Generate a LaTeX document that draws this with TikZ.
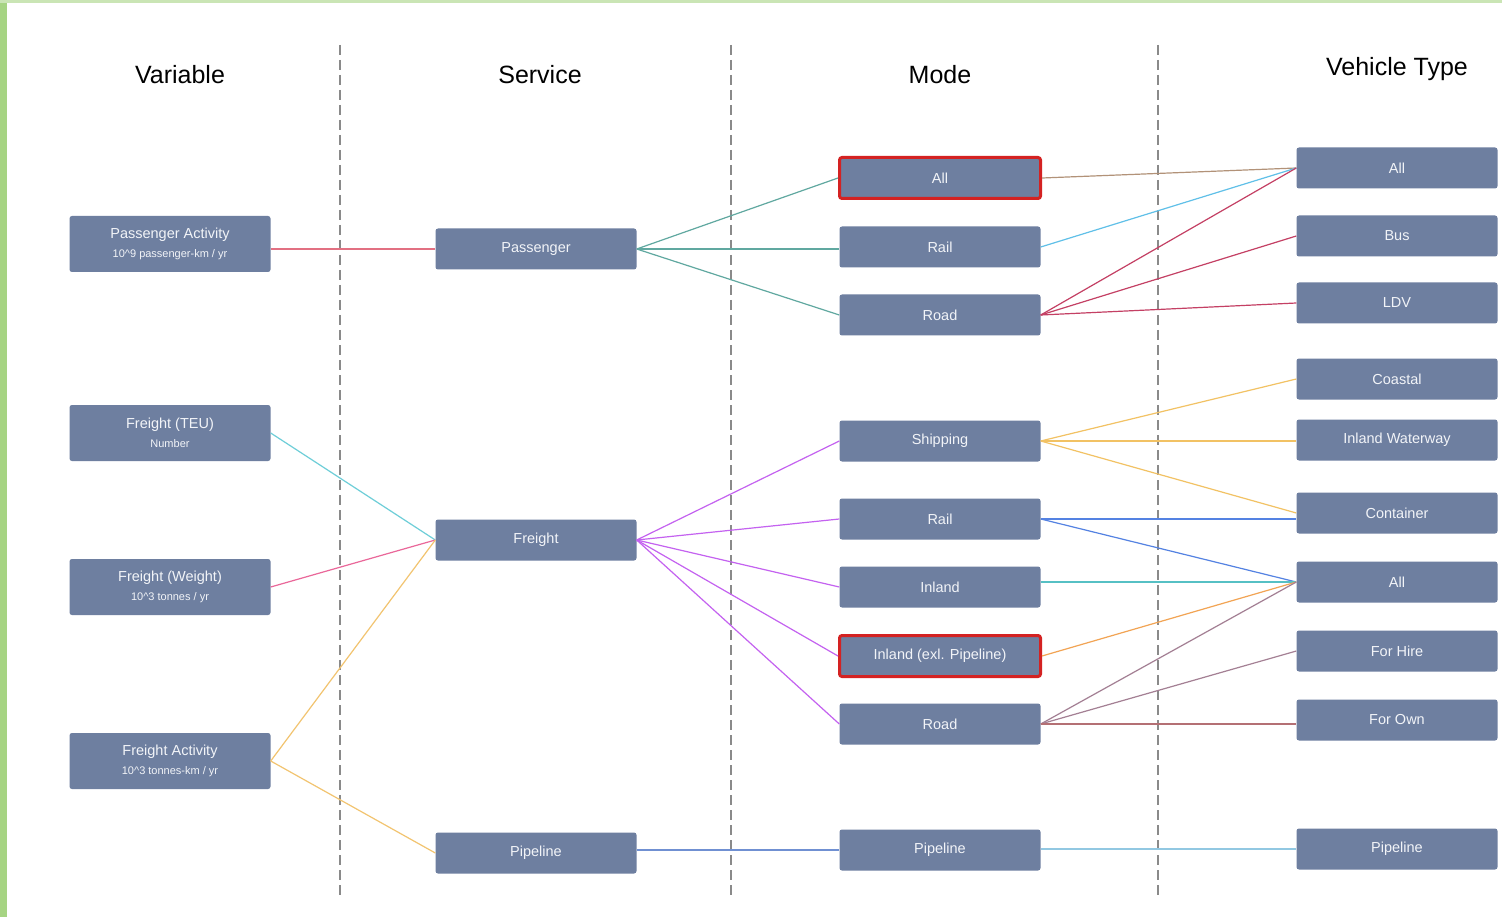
\documentclass[tikz,border=0pt]{standalone}
\usepackage{fontspec}
\setmainfont{Liberation Sans}
\usepackage{tikz}
\usetikzlibrary{calc}
\usepackage[dvipsnames,svgnames]{xcolor}

\definecolor{boxfill}{HTML}{6E7FA0}
\definecolor{boxtext}{HTML}{F2F4F8}
\definecolor{selred}{HTML}{D42222}
\definecolor{sepgray}{HTML}{8A8A8A}
\definecolor{edgegreen}{HTML}{A6D483}

\begin{document}
\begin{tikzpicture}[x=1pt,y=-1pt,
    box/.style={draw=none,fill=boxfill,rounded corners=2.5pt,minimum width=201pt,minimum height=41pt,
        text=boxtext,font=\fontsize{14.5}{17}\selectfont,align=center,inner sep=0pt},
    tallbox/.style={box,minimum height=56pt},
    chosen/.style={draw=selred,line width=3pt},
    head/.style={font=\fontsize{25}{30}\selectfont,text=black},
    link/.style={line width=1.2pt}]

    % Rahmen und Hintergrund
    \useasboundingbox (0,0) rectangle (1502,917);
    \fill[white] (0,0) rectangle (1502,917);
    \fill[edgegreen] (0,0) rectangle (7,917);
    \fill[edgegreen!60] (0,0) rectangle (1502,3);

    % Spaltenueberschriften
    \node[head] (hvar) at (180,75) {Variable};
    \node[head] (hser) at (540,75) {Service};
    \node[head] (hmod) at (940,75) {Mode};
    \node[head] (hveh) at (1397,69) {Vehicle Type};

    % gestrichelte Trennlinien
    \foreach \xs in {340,731,1158}
        \draw[sepgray,line width=1.8pt,dash pattern=on 10pt off 5pt] (\xs,45)--(\xs,895);

    % Variable
    \node[tallbox] (vpa) at (170,244) {Passenger Activity\\[2pt]{\fontsize{11}{13}\selectfont 10\textasciicircum 9 passenger-km / yr}};
    \node[tallbox] (vteu) at (170,433) {Freight (TEU)\\[2pt]{\fontsize{11}{13}\selectfont Number}};
    \node[tallbox] (vwt) at (170,587) {Freight (Weight)\\[2pt]{\fontsize{11}{13}\selectfont 10\textasciicircum 3 tonnes / yr}};
    \node[tallbox] (vfa) at (170,761) {Freight Activity\\[2pt]{\fontsize{11}{13}\selectfont 10\textasciicircum 3 tonnes-km / yr}};

    % Service
    \node[box] (spas) at (536,249) {Passenger};
    \node[box] (sfr) at (536,540) {Freight};
    \node[box] (spip) at (536,853) {Pipeline};

    % Mode
    \node[box,chosen] (mall) at (940,178) {All};
    \node[box] (mrail) at (940,247) {Rail};
    \node[box] (mroad) at (940,315) {Road};
    \node[box] (mship) at (940,441) {Shipping};
    \node[box] (mfrail) at (940,519) {Rail};
    \node[box] (minl) at (940,587) {Inland};
    \node[box,chosen] (minx) at (940,656) {Inland (exl. Pipeline)};
    \node[box] (mfroad) at (940,724) {Road};
    \node[box] (mpip) at (940,850) {Pipeline};

    % Vehicle Type
    \node[box] (tall) at (1397,168) {All};
    \node[box] (tbus) at (1397,236) {Bus};
    \node[box] (tldv) at (1397,303) {LDV};
    \node[box] (tcoast) at (1397,379) {Coastal};
    \node[box] (tiww) at (1397,440) {Inland Waterway};
    \node[box] (tcont) at (1397,513) {Container};
    \node[box] (tfall) at (1397,582) {All};
    \node[box] (thire) at (1397,651) {For Hire};
    \node[box] (town) at (1397,720) {For Own};
    \node[box] (tpip) at (1397,849) {Pipeline};

    % Variable -> Service
    \draw[link,color={rgb,255:red,226;green,112;blue,130}] (vpa.east |- spas.west)--(spas.west);
    \draw[link,color={rgb,255:red,110;green,206;blue,216}] (vteu.east)--(sfr.west);
    \draw[link,color={rgb,255:red,234;green,104;blue,154}] (vwt.east)--(sfr.west);
    \draw[link,color={rgb,255:red,242;green,196;blue,112}] (vfa.east)--(sfr.west);
    \draw[link,color={rgb,255:red,242;green,196;blue,112}] (vfa.east)--(spip.west);

    % Service -> Mode
    \draw[link,color={rgb,255:red,96;green,168;blue,160}] (spas.east)--(mall.west);
    \draw[link,color={rgb,255:red,96;green,168;blue,160}] (spas.east)--(mrail.west |- spas.east);
    \draw[link,color={rgb,255:red,96;green,168;blue,160}] (spas.east)--(mroad.west);
    \foreach \m in {mship,mfrail,minl,minx,mfroad}
        \draw[link,color={rgb,255:red,196;green,98;blue,240}] (sfr.east)--(\m.west);
    \draw[link,color={rgb,255:red,112;green,144;blue,210}] (spip.east |- mpip.west)--(mpip.west);

    % Mode -> Vehicle Type
    \draw[link,color={rgb,255:red,178;green,146;blue,120}] (mall.east)--(tall.west);
    \draw[link,color={rgb,255:red,96;green,192;blue,232}] (mrail.east)--(tall.west);
    \foreach \t in {tall,tbus,tldv}
        \draw[link,color={rgb,255:red,196;green,64;blue,100}] (mroad.east)--(\t.west);
    \foreach \t in {tcoast,tcont}
        \draw[link,color={rgb,255:red,242;green,194;blue,100}] (mship.east)--(\t.west);
    \draw[link,color={rgb,255:red,242;green,194;blue,100}] (mship.east)--(tiww.west |- mship.east);
    \draw[link,color={rgb,255:red,84;green,130;blue,226}] (mfrail.east)--(tcont.west |- mfrail.east);
    \draw[link,color={rgb,255:red,84;green,130;blue,226}] (mfrail.east)--(tfall.west);
    \draw[link,color={rgb,255:red,86;green,192;blue,196}] (minl.east |- tfall.west)--(tfall.west);
    \draw[link,color={rgb,255:red,242;green,164;blue,84}] (minx.east)--(tfall.west);
    \foreach \t in {tfall,thire}
        \draw[link,color={rgb,255:red,164;green,128;blue,148}] (mfroad.east)--(\t.west);
    \draw[link,color={rgb,255:red,180;green,112;blue,116}] (mfroad.east)--(town.west |- mfroad.east);
    \draw[link,color={rgb,255:red,146;green,200;blue,226}] (mpip.east |- tpip.west)--(tpip.west);

\end{tikzpicture}
\end{document}
